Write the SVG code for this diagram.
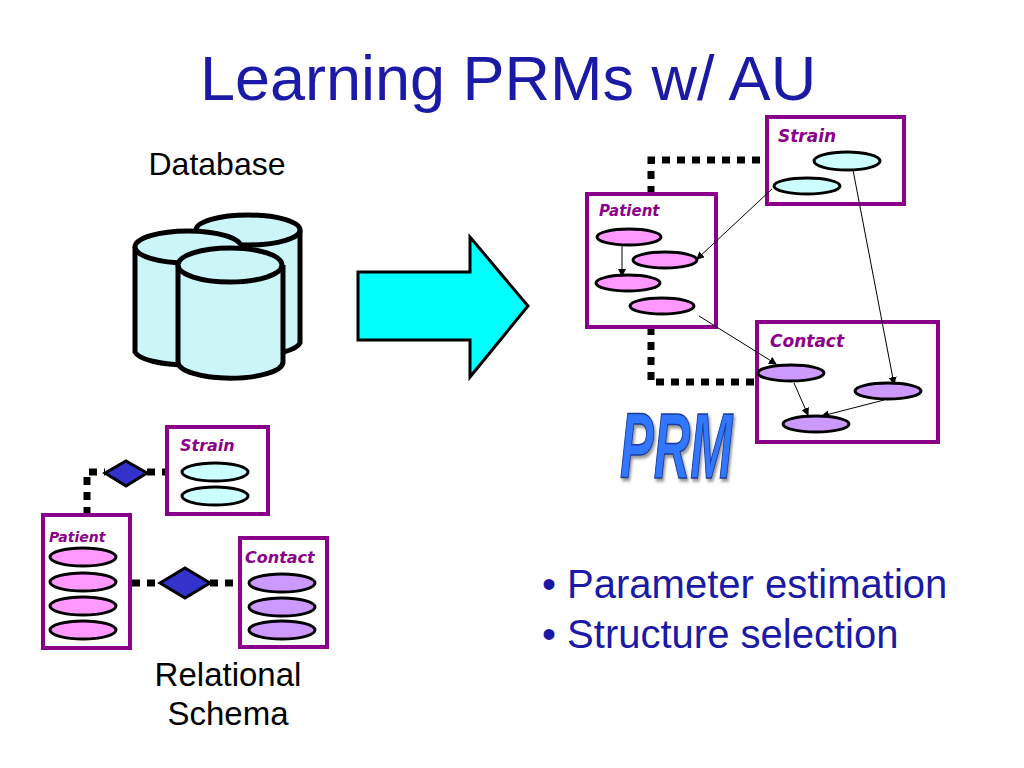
<svg xmlns="http://www.w3.org/2000/svg" width="1024" height="768" viewBox="0 0 1024 768">
<defs>
<marker id="ah" markerWidth="8" markerHeight="8" refX="7" refY="4" orient="auto" markerUnits="userSpaceOnUse"><path d="M0,0 L8,4 L0,8 z" fill="#000"/></marker>
<filter id="sh" x="-10%" y="-10%" width="130%" height="130%"><feDropShadow dx="3" dy="3" stdDeviation="1.5" flood-color="#555" flood-opacity="0.6"/></filter>
</defs>
<style>
.box{fill:#fff;stroke:#8b008b;stroke-width:4}
.lbl{font-family:Verdana,"DejaVu Sans",sans-serif;font-weight:bold;font-style:italic;fill:#8b008b}
.e{stroke:#000;stroke-width:3}
.s{fill:#ccffff}.p{fill:#ff99ff}.c{fill:#cc99ff}
.dot{fill:none;stroke:#000;stroke-width:7;stroke-dasharray:8 7}
.arr{stroke:#000;stroke-width:1;fill:none;marker-end:url(#ah)}
.cyl{fill:#ccf5f7;stroke:#000;stroke-width:5}
.t{font-family:"Liberation Sans",Arial,sans-serif}
</style>
<rect width="1024" height="768" fill="#fff"/>
<text class="t" x="508" y="100" font-size="63" fill="#1a1aa6" text-anchor="middle">Learning PRMs w/ AU</text>
<text class="t" x="217" y="175" font-size="32" text-anchor="middle">Database</text>
<g id="database">
<path class="cyl" d="M197,230 L197,343 A52,15 0 0 0 300,343 L300,230"/>
<ellipse class="cyl" cx="248" cy="230" rx="52" ry="15"/>
<path class="cyl" d="M135,247 L135,352 A53,15 0 0 0 240,352 L240,247"/>
<ellipse class="cyl" cx="188" cy="247" rx="53" ry="16"/>
<path class="cyl" d="M178,265 L178,362 A52,16 0 0 0 283,362 L283,265"/>
<ellipse class="cyl" cx="230" cy="265" rx="52" ry="17"/>
</g>
<g id="bigarrow"><polygon points="358,272 470,272 470,237 528,306 470,377 470,340 358,340" fill="#00ffff" stroke="#000" stroke-width="3"/></g>
<g id="dotted">
<polyline class="dot" points="651,194 651,160 767,160"/>
<polyline class="dot" points="651,327 651,382 757,382"/>
<polyline class="dot" points="87,515 87,472 105,472"/>
<polyline class="dot" points="147,472 167,472"/>
<polyline class="dot" points="117,583 160,583"/>
<polyline class="dot" points="210,583 240,583"/>
</g>
<g id="prm-strain">
<rect class="box" x="767" y="117" width="137" height="87"/>
<text class="lbl" x="778" y="142" font-size="17">Strain</text>
<ellipse class="e s" cx="847" cy="161" rx="33" ry="9"/>
<ellipse class="e s" cx="807" cy="186" rx="33" ry="8"/>
</g>
<g id="prm-patient">
<rect class="box" x="587" y="194" width="129" height="133"/>
<text class="lbl" x="599" y="216" font-size="15">Patient</text>
<ellipse class="e p" cx="629" cy="237" rx="32" ry="8"/>
<ellipse class="e p" cx="665" cy="260" rx="32" ry="8"/>
<ellipse class="e p" cx="628" cy="283" rx="32" ry="8"/>
<ellipse class="e p" cx="662" cy="306" rx="32" ry="8"/>
</g>
<g id="prm-contact">
<rect class="box" x="757" y="322" width="181" height="120"/>
<text class="lbl" x="770" y="347" font-size="17">Contact</text>
<ellipse class="e c" cx="791" cy="373" rx="33" ry="8"/>
<ellipse class="e c" cx="888" cy="391" rx="33" ry="8"/>
<ellipse class="e c" cx="816" cy="424" rx="33" ry="8"/>
</g>
<g id="connectors">
<line class="arr" x1="772" y1="189" x2="697" y2="259"/>
<line class="arr" x1="853" y1="170" x2="894" y2="384"/>
<line class="arr" x1="622" y1="245" x2="622" y2="276"/>
<line class="arr" x1="699" y1="316" x2="776" y2="364"/>
<line class="arr" x1="794" y1="383" x2="808" y2="415"/>
<line class="arr" x1="884" y1="400" x2="822" y2="416"/>
</g>
<g id="prm-label">
<text transform="translate(620,478) scale(0.55,1)" font-family="'Liberation Sans',Arial,sans-serif" font-weight="bold" font-style="italic" font-size="92" fill="#3377ff" stroke="#1a3a99" stroke-width="1.5" filter="url(#sh)">PRM</text>
</g>
<g id="rs-strain">
<rect class="box" x="167" y="427" width="101" height="87"/>
<text class="lbl" x="180" y="451" font-size="16">Strain</text>
<ellipse class="e s" cx="215" cy="472" rx="33" ry="9"/>
<ellipse class="e s" cx="215" cy="496" rx="33" ry="9"/>
</g>
<g id="rs-patient">
<rect class="box" x="43" y="515" width="87" height="133"/>
<text class="lbl" x="49" y="542" font-size="14">Patient</text>
<ellipse class="e p" cx="83" cy="557" rx="33" ry="9"/>
<ellipse class="e p" cx="83" cy="582" rx="33" ry="9"/>
<ellipse class="e p" cx="83" cy="606" rx="33" ry="9"/>
<ellipse class="e p" cx="83" cy="630" rx="33" ry="9"/>
</g>
<g id="rs-contact">
<rect class="box" x="240" y="538" width="87" height="109"/>
<text class="lbl" x="245" y="563" font-size="16">Contact</text>
<ellipse class="e c" cx="282" cy="583" rx="33" ry="9"/>
<ellipse class="e c" cx="282" cy="607" rx="33" ry="9"/>
<ellipse class="e c" cx="282" cy="630" rx="33" ry="9"/>
</g>
<g id="rs-diamond1"><polygon points="105,473 126,461 147,473 126,486" fill="#3333cc" stroke="#000" stroke-width="3"/></g>
<g id="rs-diamond2"><polygon points="160,583 185,568 210,583 185,598" fill="#3333cc" stroke="#000" stroke-width="3"/></g>
<text class="t" x="228" y="686" font-size="33" text-anchor="middle">Relational</text>
<text class="t" x="228" y="725" font-size="33" text-anchor="middle">Schema</text>
<text class="t" x="542" y="598" font-size="40" fill="#1a1aa6">• Parameter estimation</text>
<text class="t" x="542" y="648" font-size="40" fill="#1a1aa6">• Structure selection</text>
</svg>
